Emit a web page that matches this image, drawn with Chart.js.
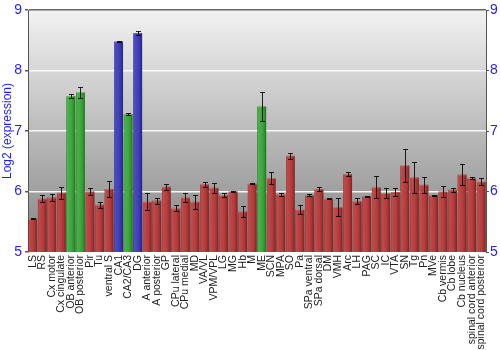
<!DOCTYPE html>
<html>
<head>
<meta charset="utf-8">
<script src="https://cdn.jsdelivr.net/npm/chart.js@4.4.1/dist/chart.umd.min.js"></script>
<style>
html,body{margin:0;padding:0;background:#fff;}
#wrap{width:500px;height:350px;}
</style>
</head>
<body>
<div id="wrap"><canvas id="c" width="500" height="350"></canvas></div>
<script>
const categories = ['LS','RS','Cx motor','Cx cingulate','OB anterior','OB posterior','Pir','Tu','ventral S','CA1','CA2/CA3','DG','A anterior','A posterior','GP','CPu lateral','CPu medial','MD','VA/VL','VPM/VPL','LG','MG','Hb','M','ME','SCN','MPA','SO','Pa','SPa ventral','SPa dorsal','DM','VMH','Arc','LH','PAG','SC','IC','VTA','SN','Tg','Pn','MVe','Cb vermis','Cb lobe','Cb nucleus','spinal cord anterior','spinal cord posterior'];
const values = [5.55,5.88,5.90,5.98,7.58,7.64,6.00,5.78,6.04,8.48,7.28,8.62,5.83,5.85,6.08,5.72,5.90,5.83,6.12,6.06,5.94,6.00,5.67,6.13,7.41,6.22,5.95,6.59,5.70,5.94,6.04,5.88,5.74,6.29,5.84,5.92,6.07,5.97,5.99,6.43,6.23,6.11,5.94,6.00,6.03,6.28,6.22,6.16];
const errors = [0.01,0.06,0.06,0.10,0.03,0.09,0.05,0.05,0.13,0.01,0.01,0.03,0.14,0.05,0.05,0.05,0.08,0.12,0.04,0.08,0.03,0.01,0.09,0.01,0.24,0.10,0.03,0.05,0.07,0.02,0.03,0.01,0.15,0.04,0.05,0.01,0.18,0.08,0.07,0.28,0.25,0.13,0.01,0.09,0.03,0.17,0.02,0.06];
const greenCategories = ['OB anterior','OB posterior','CA2/CA3','ME'];
const blueCategories = ['CA1','DG'];
const yTicks = [5,6,7,8,9];

const RED = '#b83636', GREEN = '#35a835', BLUE = '#3838ba';
const barColors = categories.map(c => greenCategories.includes(c) ? GREEN : (blueCategories.includes(c) ? BLUE : RED));

const bgPlugin = {
  id: 'bg',
  beforeDraw(chart) {
    const {ctx, chartArea: a} = chart;
    const g = ctx.createLinearGradient(0, a.top, 0, a.bottom);
    g.addColorStop(0, '#f2f2f2');
    g.addColorStop(1, '#848484');
    ctx.save();
    ctx.fillStyle = g;
    ctx.fillRect(a.left, a.top, a.right - a.left, a.bottom - a.top);
    ctx.restore();
  }
};

const shadePlugin = {
  id: 'shade',
  afterDatasetsDraw(chart) {
    const ctx = chart.ctx;
    const meta = chart.getDatasetMeta(0);
    const a = chart.chartArea;
    ctx.save();
    ctx.beginPath();
    ctx.rect(a.left, a.top, a.right - a.left, a.bottom - a.top);
    ctx.clip();
    meta.data.forEach(el => {
      const left = el.x - el.width / 2, right = el.x + el.width / 2;
      const top = el.y, bottom = el.base;
      const g = ctx.createLinearGradient(left, 0, right, 0);
      g.addColorStop(0, 'rgba(0,0,0,0.35)');
      g.addColorStop(0.12, 'rgba(255,255,255,0.10)');
      g.addColorStop(0.35, 'rgba(255,255,255,0.06)');
      g.addColorStop(0.8, 'rgba(0,0,0,0.12)');
      g.addColorStop(1, 'rgba(0,0,0,0.35)');
      ctx.fillStyle = g;
      ctx.fillRect(left, top, right - left, bottom - top);
      ctx.fillStyle = 'rgba(255,255,255,0.18)';
      ctx.fillRect(left, top, right - left, 1);
    });
    const ys = chart.scales.y;
    ctx.strokeStyle = 'rgba(0,0,0,0.85)';
    ctx.lineWidth = 1;
    meta.data.forEach((el, i) => {
      const x = Math.round(el.x) + 0.5;
      const yHi = Math.round(ys.getPixelForValue(values[i] + errors[i])) + 0.5;
      const yLo = Math.round(ys.getPixelForValue(values[i] - errors[i])) + 0.5;
      ctx.beginPath();
      ctx.moveTo(x, yHi); ctx.lineTo(x, yLo);
      ctx.moveTo(x - 2.5, yHi); ctx.lineTo(x + 2.5, yHi);
      ctx.moveTo(x - 2.5, yLo); ctx.lineTo(x + 2.5, yLo);
      ctx.stroke();
    });
    ctx.restore();
  }
};

const tickBlue = '#1e1eff';
const FONT = "'Liberation Sans', Arial, sans-serif";

new Chart(document.getElementById('c'), {
  type: 'bar',
  data: {
    labels: categories,
    datasets: [{
      data: values,
      backgroundColor: barColors,
      borderWidth: 0,
      barPercentage: 0.92,
      categoryPercentage: 1.0
    }]
  },
  options: {
    responsive: false,
    animation: false,
    devicePixelRatio: 1,
    layout: {padding: {top: 10, bottom: 0, left: 0, right: 0}},
    plugins: {legend: {display: false}, tooltip: {enabled: false}},
    scales: {
      x: {
        grid: {display: false, drawTicks: false, tickLength: 0},
        border: {display: false},
        ticks: {
          autoSkip: false, maxRotation: 90, minRotation: 90,
          color: '#222', padding: 3,
          font: {family: FONT, size: 10.5}
        },
        afterFit(s) { s.height = 98; }
      },
      y: {
        position: 'left',
        min: 5, max: 9,
        afterBuildTicks(s) { s.ticks = yTicks.map(v => ({value: v})); },
        ticks: {color: tickBlue, padding: 3, font: {family: FONT, size: 14, lineHeight: 1}},
        grid: {
          color: c => (c.tick && c.tick.value === 9) ? '#666' : (c.tick && c.tick.value === 5 ? 'rgba(0,0,0,0)' : 'rgba(255,255,255,0.9)'),
          tickColor: '#555', tickLength: 3, lineWidth: 1.5
        },
        border: {color: '#555'},
        title: {display: true, text: 'Log2 (expression)', color: tickBlue, padding: 0, font: {family: FONT, size: 12}},
        afterFit(s) { s.width = 28; }
      },
      y2: {
        position: 'right',
        min: 5, max: 9,
        afterBuildTicks(s) { s.ticks = yTicks.map(v => ({value: v})); },
        ticks: {color: tickBlue, padding: 1, font: {family: FONT, size: 14, lineHeight: 1}},
        grid: {drawOnChartArea: false, tickColor: '#555', tickLength: 3},
        border: {color: '#555'},
        afterFit(s) { s.width = 14; }
      }
    }
  },
  plugins: [bgPlugin, shadePlugin]
});
</script>
</body>
</html>
